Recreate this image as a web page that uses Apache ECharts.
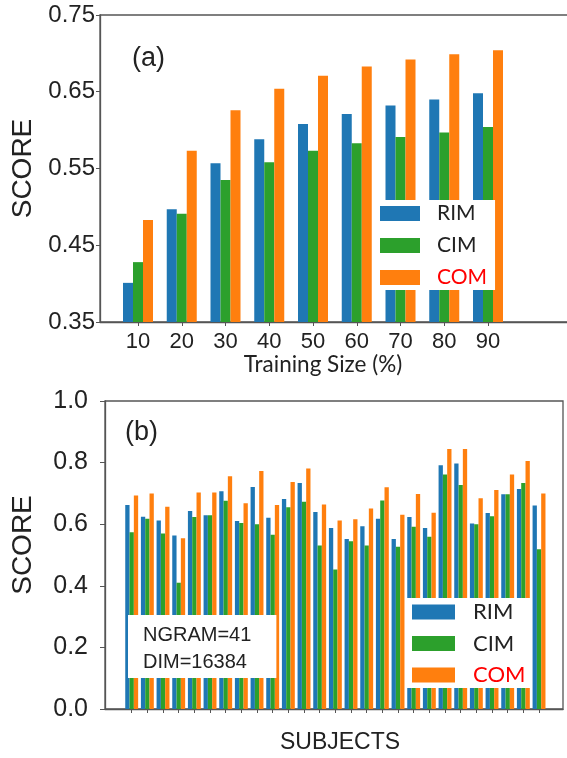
<!DOCTYPE html>
<html>
<head>
<meta charset="utf-8">
<script src="https://cdn.jsdelivr.net/npm/echarts@6/dist/echarts.min.js"></script>
<style>
html,body{margin:0;padding:0;background:#fff;}
#c{width:567px;height:758px;}
</style>
</head>
<body>
<div id="c"></div>
<script>
// ---- Chart (a) data ----
var trainingSizes = [10, 20, 30, 40, 50, 60, 70, 80, 90];
var rimA = [0.401, 0.497, 0.557, 0.588, 0.608, 0.621, 0.632, 0.640, 0.648];
var cimA = [0.428, 0.491, 0.535, 0.558, 0.573, 0.583, 0.591, 0.597, 0.604];
var comA = [0.483, 0.573, 0.626, 0.654, 0.671, 0.683, 0.692, 0.699, 0.704];
var yTicksA = [0.35, 0.45, 0.55, 0.65, 0.75];

// ---- Chart (b) data ----
var subjects = [1, 2, 3, 4, 5, 6, 7, 8, 9, 10, 11, 12, 13, 14, 15, 16, 17, 18, 19, 20, 21, 22, 23, 24, 25, 26, 27];
var rimB = [0.662, 0.624, 0.612, 0.563, 0.643, 0.629, 0.707, 0.610, 0.721, 0.621, 0.682, 0.734, 0.640, 0.588, 0.552, 0.593, 0.618, 0.552, 0.623, 0.588, 0.791, 0.797, 0.602, 0.636, 0.697, 0.714, 0.661];
var cimB = [0.574, 0.618, 0.570, 0.410, 0.623, 0.629, 0.676, 0.604, 0.600, 0.566, 0.655, 0.673, 0.531, 0.453, 0.545, 0.531, 0.677, 0.527, 0.592, 0.559, 0.761, 0.727, 0.600, 0.626, 0.697, 0.734, 0.519];
var comB = [0.693, 0.700, 0.657, 0.554, 0.703, 0.703, 0.756, 0.668, 0.773, 0.662, 0.737, 0.781, 0.664, 0.612, 0.616, 0.651, 0.720, 0.631, 0.698, 0.637, 0.844, 0.844, 0.684, 0.711, 0.761, 0.805, 0.700];
var yTicksB = [0.0, 0.2, 0.4, 0.6, 0.8, 1.0];

var seriesNames = ['RIM', 'CIM', 'COM'];
var colors = ['#1f77b4', '#2ca02c', '#ff7f0e'];

function pairs(xs, ys) { return xs.map(function (x, i) { return [x, ys[i]]; }); }

var tickFont = 'Liberation Sans, Arial, sans-serif';
var legFont = 'Lato, sans-serif';
var axisCol = '#555';

var chart = echarts.init(document.getElementById('c'), null, {renderer: 'canvas'});

var option = {
  animation: false,
  backgroundColor: '#fff',
  title: [{
    text: 'NGRAM=41\nDIM=16384',
    left: 128, top: 615,
    padding: [7, 25, 2, 15],
    backgroundColor: '#fff',
    textStyle: {fontSize: 20, lineHeight: 27, fontWeight: 'normal', fontFamily: tickFont, color: '#222'}
  }],
  graphic: [
    {type: 'text', x: 132, y: 59, z: 10, style: {text: '(a)', font: '27px Liberation Sans', fill: '#222', verticalAlign: 'middle'}},
    {type: 'text', x: 125, y: 433, z: 10, style: {text: '(b)', font: '27px Liberation Sans', fill: '#222', verticalAlign: 'middle'}},
    {type: 'text', x: 323, y: 365, z: 10, style: {text: 'Training Size (%)', font: '22.5px Lato', fill: '#222', align: 'center', verticalAlign: 'middle'}}
  ],
  legend: [{
    orient: 'vertical', left: 378, top: 200,
    icon: 'rect', itemWidth: 40, itemHeight: 15, itemGap: 11,
    padding: [3, 8, 2, 2],
    backgroundColor: '#fff',
    textStyle: {fontSize: 21, lineHeight: 21, fontFamily: legFont, color: '#222', padding: [0, 0, 0, 12]},
    data: [{name: 'RIM'}, {name: 'CIM'}, {name: 'COM', textStyle: {color: '#ff0000'}}]
  }, {
    orient: 'vertical', left: 407, top: 598,
    icon: 'rect', itemWidth: 43, itemHeight: 15, itemGap: 9.5,
    padding: [3, 6, 2, 5],
    backgroundColor: '#fff',
    textStyle: {fontSize: 22, lineHeight: 22, fontFamily: legFont, color: '#222', padding: [0, 0, 0, 13]},
    data: [{name: 'RIM'}, {name: 'CIM'}, {name: 'COM', textStyle: {color: '#ff0000'}}]
  }],
  grid: [
    {left: 100, top: 15, width: 475, height: 307, outerBoundsMode: 'none', containLabel: false, show: true, borderColor: axisCol, borderWidth: 1.3, backgroundColor: 'transparent'},
    {left: 105, top: 401, width: 458, height: 308, outerBoundsMode: 'none', containLabel: false, show: true, borderColor: axisCol, borderWidth: 1.3, backgroundColor: 'transparent'}
  ],
  xAxis: [{
    gridIndex: 0, type: 'value', min: 1.314, max: 109.885,
    splitLine: {show: false},
    axisLine: {show: true, onZero: false, lineStyle: {color: axisCol, width: 1.3}},
    axisTick: {show: true, length: 4, lineStyle: {color: axisCol}, customValues: trainingSizes},
    axisLabel: {show: true, fontSize: 22, fontFamily: tickFont, color: '#222', margin: 9, customValues: trainingSizes}
  }, {
    gridIndex: 1, type: 'value', min: -0.704, max: 28.53,
    name: 'SUBJECTS', nameLocation: 'middle', nameGap: 22,
    nameTextStyle: {fontSize: 23, fontFamily: tickFont, color: '#222', padding: [0, 0, 0, 12]},
    splitLine: {show: false},
    axisLine: {show: true, onZero: false, lineStyle: {color: axisCol, width: 1.3}},
    axisTick: {show: true, length: 4, lineStyle: {color: axisCol}, customValues: subjects},
    axisLabel: {show: false}
  }],
  yAxis: [{
    gridIndex: 0, type: 'value', min: 0.35, max: 0.75,
    name: 'SCORE', nameLocation: 'middle', nameGap: 63,
    nameTextStyle: {fontSize: 28, fontFamily: tickFont, color: '#222'},
    splitLine: {show: false},
    axisLine: {show: true, onZero: false, lineStyle: {color: axisCol, width: 1.3}},
    axisTick: {show: true, length: 4, lineStyle: {color: axisCol}, customValues: yTicksA},
    axisLabel: {show: true, fontSize: 24, fontFamily: tickFont, color: '#222', margin: 5, customValues: yTicksA,
      formatter: function (v) { return v.toFixed(2); }}
  }, {
    gridIndex: 1, type: 'value', min: 0, max: 1,
    name: 'SCORE', nameLocation: 'middle', nameGap: 68,
    nameTextStyle: {fontSize: 28, fontFamily: tickFont, color: '#222', padding: [0, 0, 0, 20]},
    splitLine: {show: false},
    axisLine: {show: true, onZero: false, lineStyle: {color: axisCol, width: 1.3}},
    axisTick: {show: true, length: 5, lineStyle: {color: axisCol}, customValues: yTicksB},
    axisLabel: {show: true, fontSize: 25, fontFamily: tickFont, color: '#222', margin: 17, customValues: yTicksB,
      formatter: function (v) { return v.toFixed(1); }}
  }],
  series: []
};

var dataA = [rimA, cimA, comA];
var dataB = [rimB, cimB, comB];
for (var s = 0; s < 3; s++) {
  option.series.push({
    name: seriesNames[s], type: 'bar', xAxisIndex: 0, yAxisIndex: 0,
    barWidth: 10, barGap: '0%',
    itemStyle: {color: colors[s]},
    data: pairs(trainingSizes, dataA[s])
  });
}
for (var t = 0; t < 3; t++) {
  option.series.push({
    name: seriesNames[t], type: 'bar', xAxisIndex: 1, yAxisIndex: 1,
    barWidth: 4.3, barGap: '0%',
    itemStyle: {color: colors[t]},
    data: pairs(subjects, dataB[t])
  });
}
chart.setOption(option);
</script>
</body>
</html>
